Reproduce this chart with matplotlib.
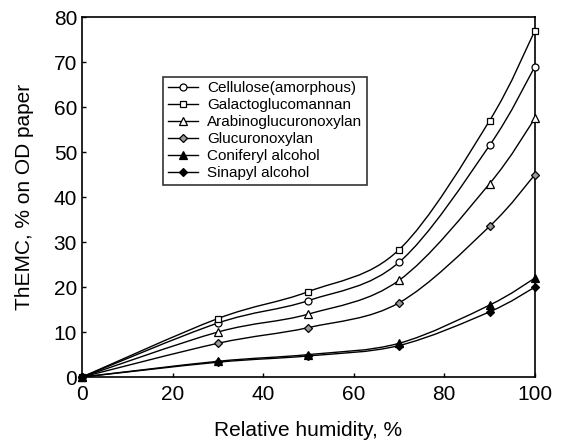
import numpy as np
import matplotlib.pyplot as plt
from matplotlib.path import Path
from matplotlib.patches import PathPatch

plt.rcParams['font.family'] = ['Liberation Sans', 'DejaVu Sans']

rh = [0, 30, 50, 70, 90, 100]
cellulose = [0, 12, 17, 25.5, 51.5, 69]
galacto = [0, 13, 19, 28.3, 57, 77]
arabino = [0, 10, 14, 21.5, 43, 57.5]
glucurono = [0, 7.5, 11, 16.5, 33.5, 45]
coniferyl = [0, 3.5, 5, 7.5, 16, 22]
sinapyl = [0, 3.3, 4.7, 7, 14.5, 20]

series = [
    ('Cellulose(amorphous)', cellulose, 'o', 'white', 5),
    ('Galactoglucomannan', galacto, 's', 'white', 5),
    ('Arabinoglucuronoxylan', arabino, '^', 'white', 6),
    ('Glucuronoxylan', glucurono, 'D', '0.6', 4),
    ('Coniferyl alcohol', coniferyl, '^', 'black', 6),
    ('Sinapyl alcohol', sinapyl, 'D', 'black', 4),
]


def smooth_path(x, y):
    # Catmull-Rom style bezier through the points
    x = np.asarray(x, float)
    y = np.asarray(y, float)
    verts = [(x[0], y[0])]
    codes = [Path.MOVETO]
    n = len(x)
    for i in range(n - 1):
        x0, y0 = (x[i - 1], y[i - 1]) if i > 0 else (x[i], y[i])
        x3, y3 = (x[i + 2], y[i + 2]) if i + 2 < n else (x[i + 1], y[i + 1])
        c1 = (x[i] + (x[i + 1] - x0) / 6, y[i] + (y[i + 1] - y0) / 6)
        c2 = (x[i + 1] - (x3 - x[i]) / 6, y[i + 1] - (y3 - y[i]) / 6)
        verts += [c1, c2, (x[i + 1], y[i + 1])]
        codes += [Path.CURVE4] * 3
    return Path(verts, codes)


fig = plt.figure(figsize=(5.69, 4.41), dpi=100)
ax = fig.add_axes([0.144, 0.145, 0.796, 0.816])

for label, vals, m, fc, ms in series:
    ax.add_patch(PathPatch(smooth_path(rh, vals), fill=False, lw=1.0, ec='black'))
    ax.plot(rh, vals, ls='none', marker=m, ms=ms, mfc=fc, mec='black', mew=0.9,
            clip_on=False, zorder=3)
    ax.plot([], [], color='black', lw=1.0, marker=m, ms=ms, mfc=fc, mec='black',
            mew=0.9, label=label)

ax.set_xlim(0, 100)
ax.set_ylim(0, 80)
ax.set_xticks(range(0, 101, 20))
ax.set_yticks(range(0, 81, 10))
ax.tick_params(direction='in', length=3, labelsize=15, width=1)
ax.tick_params(axis='x', pad=6)
ax.set_xlabel('Relative humidity, %', fontsize=15, labelpad=12)
ax.set_ylabel('ThEMC, % on OD paper', fontsize=15, labelpad=14)
for s in ax.spines.values():
    s.set_linewidth(1.2)

leg = ax.legend(loc='upper left', bbox_to_anchor=(0.179, 0.835), fontsize=11,
                frameon=True, fancybox=False, edgecolor='black', handlelength=2.0,
                handletextpad=0.6, labelspacing=0.2, borderpad=0.3, borderaxespad=0)
leg.get_frame().set_linewidth(1.2)

fig.savefig('out.png', dpi=100)
